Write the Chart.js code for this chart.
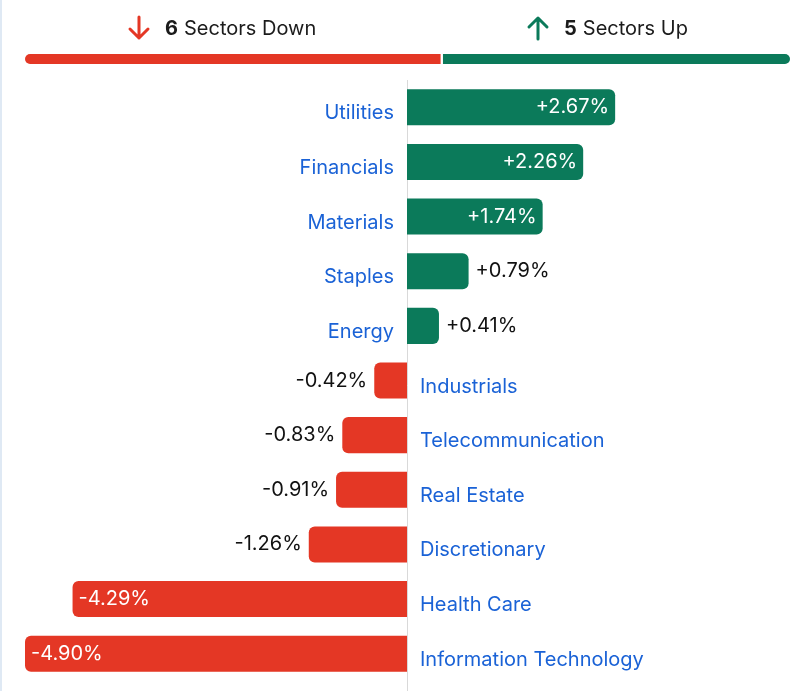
<!DOCTYPE html>
<html>
<head>
<meta charset="utf-8">
<script src="https://cdn.jsdelivr.net/npm/chart.js@4.4.1/dist/chart.umd.min.js"></script>
<style>
  html, body { margin: 0; padding: 0; background: #fff; }
  body { width: 810px; height: 691px; position: relative; overflow: hidden; }
  #edge { position: absolute; left: 0; top: 0; width: 2px; height: 691px; background: #dfe9f4; }
  #head { position: absolute; left: 0; top: 0; width: 810px; height: 70px; }
  #main { position: absolute; left: 0; top: 0; width: 810px; height: 691px; }
  .hl { position: absolute; top: 15px; font-family: Inter, "Noto Sans", sans-serif; font-size: 20px; color: #1b1b1b; display: flex; align-items: center; white-space: nowrap; }
  .hl b { font-weight: 700; margin-right: 6px; }
  .hl svg { margin-right: 14px; }
</style>
</head>
<body>
<div id="edge"></div>
<div id="head"><canvas id="headChart" width="810" height="70"></canvas></div>
<div id="main"><canvas id="mainChart" width="810" height="691"></canvas></div>
<div class="hl" id="downLabel" style="left:127px">
  <svg width="24" height="26" viewBox="0 0 24 26"><path d="M12 2 V23 M3 14 L12 23 L21 14" stroke="#e43725" stroke-width="3" fill="none" stroke-linecap="round" stroke-linejoin="round"/></svg>
  <b id="downCount"></b>Sectors Down
</div>
<div class="hl" id="upLabel" style="left:526px">
  <svg width="24" height="26" viewBox="0 0 24 26"><path d="M12 24 V3 M3 12 L12 3 L21 12" stroke="#0b7a5a" stroke-width="3" fill="none" stroke-linecap="round" stroke-linejoin="round"/></svg>
  <b id="upCount"></b>Sectors Up
</div>
<script>
// Datos de los sectores
const sectors = ["Utilities", "Financials", "Materials", "Staples", "Energy", "Industrials",
  "Telecommunication", "Real Estate", "Discretionary", "Health Care", "Information Technology"];
const changes = [2.67, 2.26, 1.74, 0.79, 0.41, -0.42, -0.83, -0.91, -1.26, -4.29, -4.90];
const downCount = [6];
const upCount = [5];

const GREEN = '#0b7a5a';
const RED = '#e43725';
const BLUE = '#1a62d6';

document.getElementById('downCount').innerText = downCount[0];
document.getElementById('upCount').innerText = upCount[0];

// Barra de resumen arriba
new Chart(document.getElementById('headChart'), {
  type: 'bar',
  data: {
    labels: ['summary'],
    datasets: [
      { data: downCount, backgroundColor: RED, borderColor: '#fff', borderWidth: { right: 2 },
        borderRadius: { topLeft: 5, bottomLeft: 5 }, borderSkipped: false },
      { data: upCount, backgroundColor: GREEN, borderColor: '#fff', borderWidth: { left: 1 },
        borderRadius: { topRight: 5, bottomRight: 5 }, borderSkipped: false }
    ]
  },
  options: {
    indexAxis: 'y',
    responsive: false,
    animation: false,
    layout: { padding: { left: 25, right: 20, top: 54, bottom: 6 } },
    datasets: { bar: { barPercentage: 1, categoryPercentage: 1 } },
    scales: {
      x: { stacked: true, display: false, min: 0, max: downCount[0] + upCount[0] },
      y: { stacked: true, display: false }
    },
    plugins: { legend: { display: false }, tooltip: { enabled: false } }
  }
});

// Etiquetas y línea de cero
const labelPlugin = {
  id: 'labels',
  beforeDatasetsDraw(chart) {
    const ctx = chart.ctx;
    const x0 = Math.round(chart.scales.x.getPixelForValue(0)) + 0.5;
    ctx.save();
    ctx.strokeStyle = '#d9d9d9';
    ctx.lineWidth = 1;
    ctx.beginPath();
    ctx.moveTo(x0, 80);
    ctx.lineTo(x0, chart.height);
    ctx.stroke();
    ctx.restore();
  },
  afterDatasetsDraw(chart) {
    const ctx = chart.ctx;
    const x0 = chart.scales.x.getPixelForValue(0);
    const meta = chart.getDatasetMeta(0);
    ctx.save();
    ctx.font = '20px Inter, "Noto Sans", sans-serif';
    ctx.textBaseline = 'middle';
    meta.data.forEach((bar, i) => {
      const v = changes[i];
      const txt = (v > 0 ? '+' : '') + v.toFixed(2) + '%';
      const inside = Math.abs(v) >= 1.5;
      // categoría
      ctx.fillStyle = BLUE;
      if (v >= 0) {
        ctx.textAlign = 'right';
        ctx.fillText(sectors[i], x0 - 13, bar.y + 6);
      } else {
        ctx.textAlign = 'left';
        ctx.fillText(sectors[i], x0 + 13, bar.y + 6);
      }
      // valor
      if (v >= 0) {
        if (inside) { ctx.fillStyle = '#fff'; ctx.textAlign = 'right'; ctx.fillText(txt, bar.x - 6, bar.y); }
        else { ctx.fillStyle = '#111'; ctx.textAlign = 'left'; ctx.fillText(txt, bar.x + 7, bar.y); }
      } else {
        if (inside) { ctx.fillStyle = '#fff'; ctx.textAlign = 'left'; ctx.fillText(txt, bar.x + 6, bar.y); }
        else { ctx.fillStyle = '#111'; ctx.textAlign = 'right'; ctx.fillText(txt, bar.x - 7, bar.y); }
      }
    });
    ctx.restore();
  }
};

new Chart(document.getElementById('mainChart'), {
  type: 'bar',
  data: {
    labels: sectors,
    datasets: [{
      data: changes,
      backgroundColor: changes.map(v => v >= 0 ? GREEN : RED),
      borderRadius: 6,
      borderSkipped: 'start',
      barPercentage: 0.66,
      categoryPercentage: 1
    }]
  },
  options: {
    indexAxis: 'y',
    responsive: false,
    animation: false,
    layout: { padding: { left: 25, right: 21, top: 80, bottom: 10 } },
    scales: {
      x: { display: false, min: -4.9, max: 4.9 },
      y: { display: false }
    },
    plugins: { legend: { display: false }, tooltip: { enabled: false } }
  },
  plugins: [labelPlugin]
});
</script>
</body>
</html>
